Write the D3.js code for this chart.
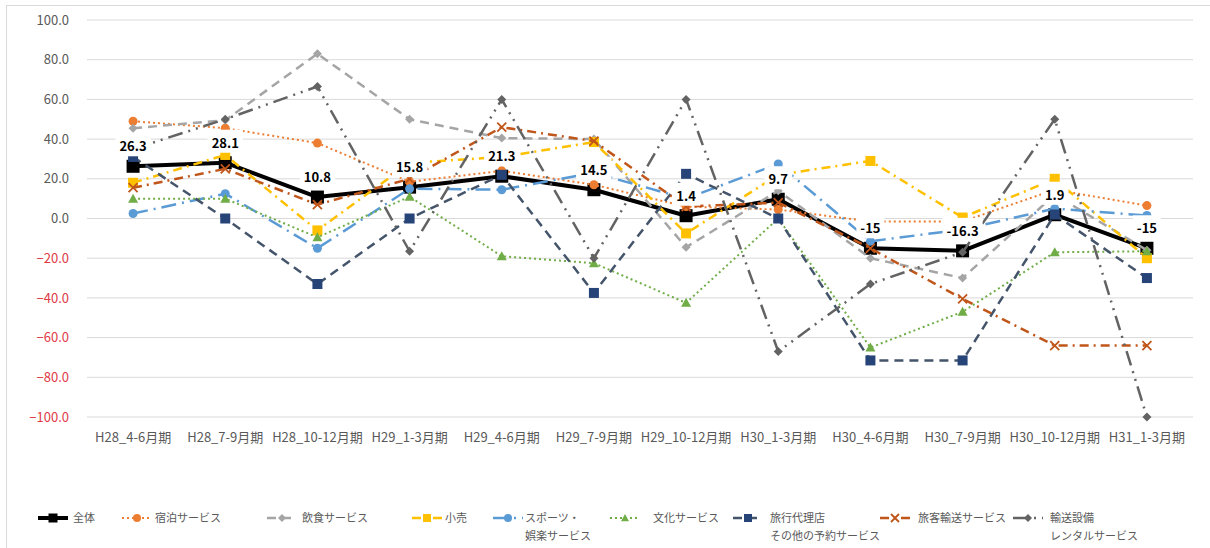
<!DOCTYPE html>
<html>
<head>
<meta charset="utf-8">
<script src="https://cdn.jsdelivr.net/npm/d3@7"></script>
<style>
  body { margin: 0; background: #fff; }
  svg text { font-family: "Noto Sans CJK JP", "Noto Sans", sans-serif; }
</style>
</head>
<body>
<div id="chart"></div>
<script>
// categories and series values
var categories = ['H28_4-6月期', 'H28_7-9月期', 'H28_10-12月期', 'H29_1-3月期', 'H29_4-6月期', 'H29_7-9月期',
                  'H29_10-12月期', 'H30_1-3月期', 'H30_4-6月期', 'H30_7-9月期', 'H30_10-12月期', 'H31_1-3月期'];

var zentai     = [26.3, 28.1, 10.8, 15.8, 21.3, 14.5, 1.4, 9.7, -15, -16.3, 1.9, -15];
var shukuhaku  = [49, 45.5, 38, 18.5, 24, 17, 6, 4.5, -1.5, -1.5, 14.5, 6.5];
var inshoku    = [45.5, 49.5, 83, 50, 40.5, 40, -14.5, 14, -20, -30, 12, -16];
var kouri      = [18, 32, -6, 28, 31, 38.5, -7.5, 22, 29, 0.5, 20, -20];
var sports     = [2.5, 12.5, -15, 15, 14.5, 23, 10, 27.5, -11.5, -5.5, 5, 1.5];
var bunka      = [10, 10, -9.5, 11, -19, -22.5, -42.5, 0, -65, -47, -17, -16.5];
var ryokou     = [31, 0, -33, 0, 22, -37.5, 22.5, 0, -71.5, -71.5, 2, -30];
var ryokaku    = [15.5, 25, 7, 20, 46, 39, 6, 8, -15, -40.5, -64, -64];
var yusou      = [35, 50, 66.5, -16.5, 60, -20, 60, -67, -33, -17, 50, -100];

var yTicks = [-100, -80, -60, -40, -20, 0, 20, 40, 60, 80, 100];

var series = [
  { name: ['全体'], values: zentai, color: '#000000', width: 4, dash: null, marker: 'square', msize: 13, mcolor: '#000000' },
  { name: ['宿泊サービス'], values: shukuhaku, color: '#ED7D31', width: 2, dash: '2,3', marker: 'circle', msize: 9, mcolor: '#ED7D31' },
  { name: ['飲食サービス'], values: inshoku, color: '#A5A5A5', width: 2.5, dash: '9,6', marker: 'diamond', msize: 9, mcolor: '#A5A5A5' },
  { name: ['小売'], values: kouri, color: '#FFC000', width: 2.5, dash: '9,5,2,5', marker: 'square', msize: 10, mcolor: '#FFC000' },
  { name: ['スポーツ・', '娯楽サービス'], values: sports, color: '#5B9BD5', width: 2.5, dash: '15,6,2,6', marker: 'circle', msize: 9, mcolor: '#5B9BD5' },
  { name: ['文化サービス'], values: bunka, color: '#70AD47', width: 2, dash: '2,3', marker: 'triangle', msize: 10, mcolor: '#70AD47' },
  { name: ['旅行代理店', 'その他の予約サービス'], values: ryokou, color: '#44546A', width: 2.5, dash: '9,6', marker: 'square', msize: 10, mcolor: '#264478' },
  { name: ['旅客輸送サービス'], values: ryokaku, color: '#C0561A', width: 2.5, dash: '9,5,2,5', marker: 'cross', msize: 9, mcolor: '#C0561A' },
  { name: ['輸送設備', 'レンタルサービス'], values: yusou, color: '#636363', width: 2.5, dash: '15,6,2,6,2,6', marker: 'diamond', msize: 9, mcolor: '#636363' }
];

// legend layout: line start and text start for each entry
var legend_x = [38, 122, 267, 412, 493, 610, 733, 880, 1013];
var legend_tx = [73, 155, 302, 445, 525, 653, 770, 918, 1050];

var W = 1210, H = 548;
var plot = { left: 87, right: 1193, top: 20, bottom: 417 };

var svg = d3.select('#chart').append('svg')
  .attr('width', W).attr('height', H);

svg.append('rect')
  .attr('x', 6.5).attr('y', 5.5)
  .attr('width', W).attr('height', H)
  .attr('fill', '#fff').attr('stroke', '#D9D9D9');

var x = d3.scaleBand().domain(categories).range([plot.left, plot.right]);
var y = d3.scaleLinear().domain([-100, 100]).range([plot.bottom, plot.top]);
var cx = function(i) { return x(categories[i]) + x.bandwidth() / 2; };

// gridlines
svg.append('g')
  .selectAll('line').data(yTicks).enter().append('line')
  .attr('x1', plot.left).attr('x2', plot.right)
  .attr('y1', function(d) { return y(d); }).attr('y2', function(d) { return y(d); })
  .attr('stroke', '#D9D9D9').attr('stroke-width', 1);

// y axis
var yAxis = svg.append('g')
  .attr('transform', `translate(${plot.left - 15}, 0)`)
  .call(d3.axisLeft(y).tickValues(yTicks).tickSize(0).tickFormat(d3.format('.1f')));
yAxis.select('.domain').remove();
yAxis.selectAll('text')
  .style('font-size', '13px')
  .attr('fill', function(d) { return d < 0 ? '#E03A45' : '#595959'; });

// x axis
var xAxis = svg.append('g')
  .attr('transform', `translate(0, ${plot.bottom + 13})`)
  .call(d3.axisBottom(x).tickSize(0));
xAxis.select('.domain').remove();
xAxis.selectAll('text')
  .style('font-size', '13px')
  .attr('fill', '#595959');

function drawMarker(g, type, size, color) {
  var s = size / 2;
  if (type === 'square') {
    g.append('rect').attr('x', -s).attr('y', -s).attr('width', size).attr('height', size).attr('fill', color);
  } else if (type === 'circle') {
    g.append('circle').attr('r', s).attr('fill', color);
  } else if (type === 'diamond') {
    g.append('path').attr('d', `M0,${-s}L${s},0L0,${s}L${-s},0Z`).attr('fill', color);
  } else if (type === 'triangle') {
    g.append('path').attr('d', `M0,${-s}L${s},${s * 0.8}L${-s},${s * 0.8}Z`).attr('fill', color);
  } else if (type === 'cross') {
    g.append('path').attr('d', `M${-s},${-s}L${s},${s}M${s},${-s}L${-s},${s}`)
      .attr('stroke', color).attr('stroke-width', 1.8);
  }
}

var line = d3.line()
  .x(function(d, i) { return cx(i); })
  .y(function(d) { return y(d); });

series.forEach(function(s) {
  var g = svg.append('g');
  g.append('path')
    .datum(s.values)
    .attr('d', line)
    .attr('fill', 'none')
    .attr('stroke', s.color)
    .attr('stroke-width', s.width)
    .attr('stroke-dasharray', s.dash)
    .attr('stroke-linejoin', 'round');
  s.values.forEach(function(v, i) {
    var m = g.append('g').attr('transform', `translate(${cx(i)}, ${y(v)})`);
    drawMarker(m, s.marker, s.msize, s.mcolor);
  });
});

// data labels for 全体
var labels = svg.append('g');
zentai.forEach(function(v, i) {
  var t = labels.append('text')
    .attr('x', cx(i))
    .attr('y', y(v) - 15)
    .attr('text-anchor', 'middle')
    .style('font-size', '13px')
    .style('font-weight', 700)
    .attr('fill', '#000')
    .text(String(v));
  var b = t.node().getBBox();
  labels.insert('rect', 'text')
    .attr('x', b.x - 4).attr('y', b.y - 3)
    .attr('width', b.width + 8).attr('height', b.height + 4)
    .attr('fill', '#fff');
});
// keep texts above every rect
labels.selectAll('text').raise();

// legend
var legendY = 518;
series.forEach(function(s, k) {
  var lx = legend_x[k];
  var g = svg.append('g').attr('transform', `translate(${lx}, ${legendY})`);
  g.append('line')
    .attr('x1', 0).attr('x2', 30)
    .attr('stroke', s.color)
    .attr('stroke-width', s.width)
    .attr('stroke-dasharray', s.dash);
  var m = g.append('g').attr('transform', 'translate(15, 0)');
  drawMarker(m, s.marker, k === 0 ? 9 : 8, s.mcolor);
  s.name.forEach(function(n, j) {
    g.append('text')
      .attr('x', legend_tx[k] - lx)
      .attr('y', 4 + j * 18)
      .style('font-size', '11px')
      .attr('fill', '#595959')
      .text(n);
  });
});
</script>
</body>
</html>
